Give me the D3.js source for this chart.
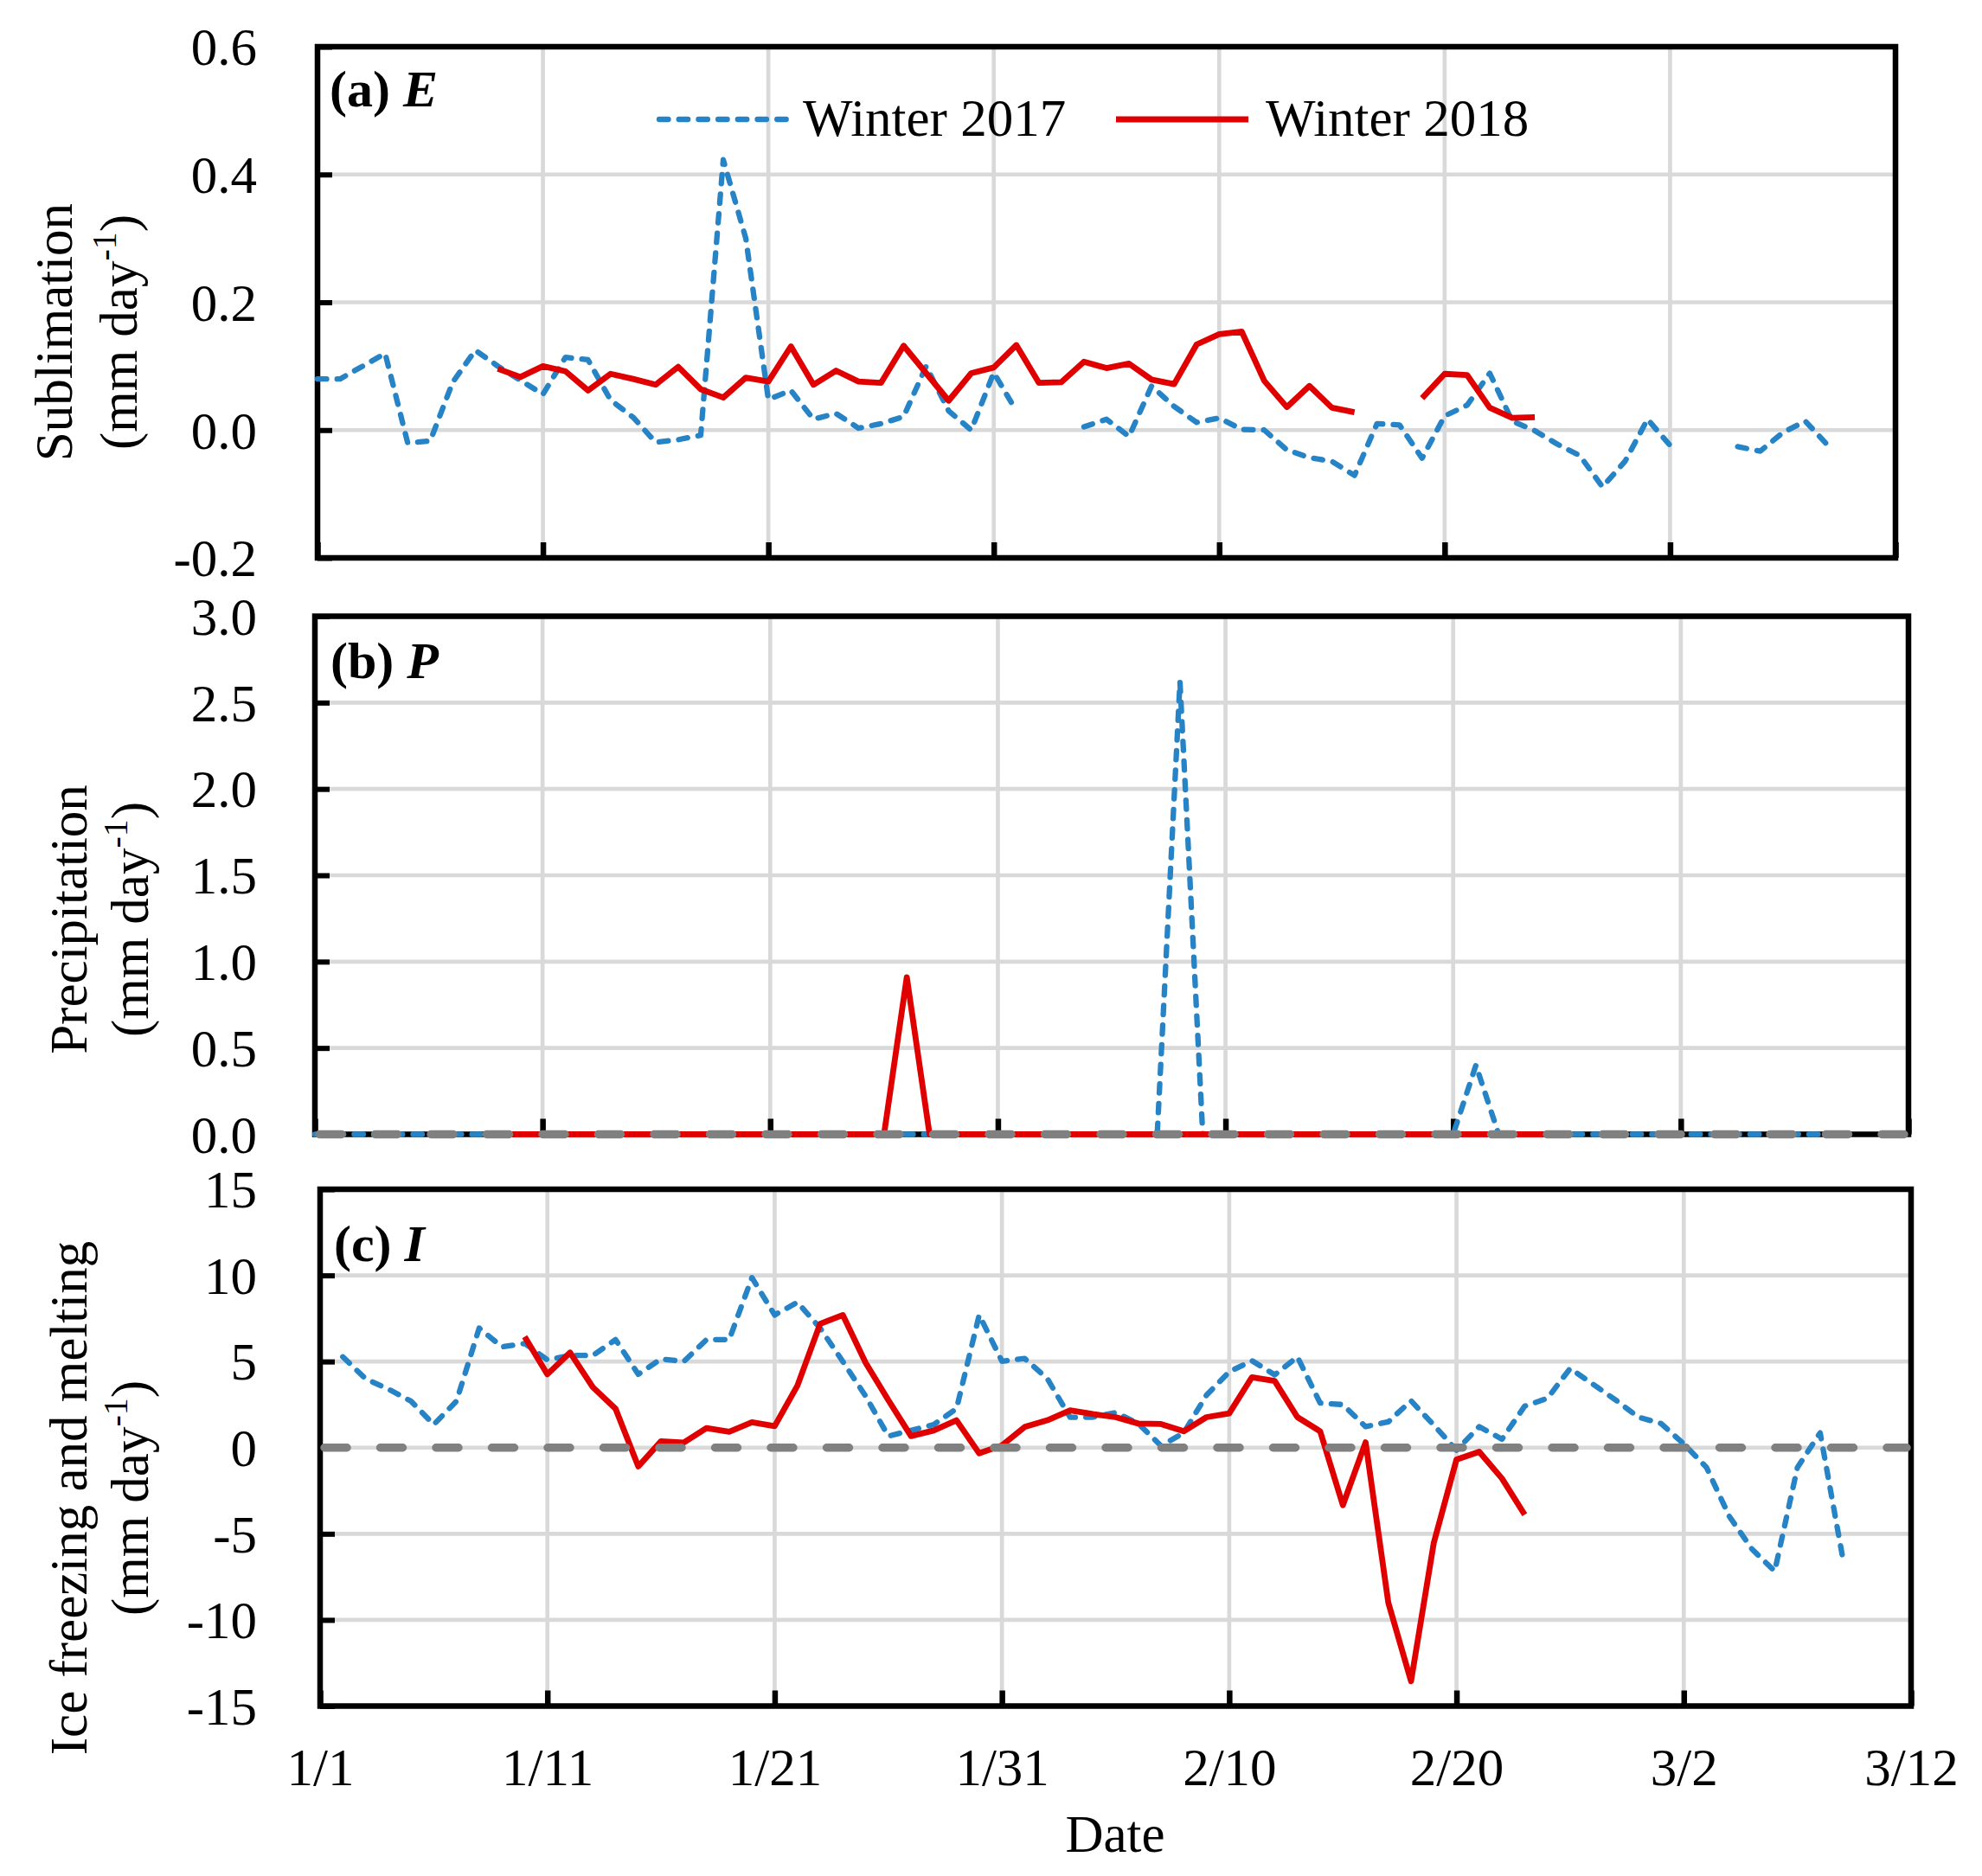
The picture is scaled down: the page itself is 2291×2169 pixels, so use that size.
<!DOCTYPE html>
<html>
<head>
<meta charset="utf-8">
<script src="https://cdn.jsdelivr.net/npm/d3@7/dist/d3.min.js"></script>
<style>
  html, body { margin: 0; padding: 0; background: #fff; }
  svg { display: block; }
  text { font-family: "Liberation Serif", "Times New Roman", serif; fill: #000; }
</style>
</head>
<body>
<svg id="chart" width="2291" height="2169" viewBox="0 0 2291 2169"></svg>
<script>
// ---------------- DATA ----------------
const xTickDays   = [0, 10, 20, 30, 40, 50, 60, 70];
const xTickLabels = ["1/1", "1/11", "1/21", "1/31", "2/10", "2/20", "3/2", "3/12"];

const yTicksE = [-0.2, 0, 0.2, 0.4, 0.6];
const yTicksP = [0, 0.5, 1.0, 1.5, 2.0, 2.5, 3.0];
const yTicksI = [-15, -10, -5, 0, 5, 10, 15];

const seriesNames = ["Winter 2017", "Winter 2018"];

// Sublimation E (mm/day), index = days since 1/1
const E2017 = [0.080,0.080,0.100,0.120,-0.020,-0.017,0.075,0.125,0.100,0.078,0.056,0.114,0.110,0.047,0.020,-0.019,-0.015,-0.008,0.423,0.300,0.048,0.062,0.017,0.026,0.003,0.010,0.021,0.100,0.030,0.000,0.090,0.030,null,null,0.005,0.017,-0.010,0.069,0.037,0.012,0.019,0.001,0.000,-0.031,-0.043,-0.049,-0.071,0.010,0.008,-0.044,0.022,0.039,0.089,0.014,-0.001,-0.022,-0.040,-0.089,-0.049,0.017,-0.024,null,null,-0.026,-0.033,-0.004,0.014,-0.024];
const E2018 = [null,null,null,null,null,null,null,null,0.096,0.083,0.100,0.092,0.062,0.088,0.080,0.071,0.099,0.064,0.051,0.082,0.076,0.131,0.071,0.093,0.076,0.074,0.132,0.089,0.046,0.089,0.098,0.133,0.074,0.075,0.107,0.097,0.104,0.079,0.072,0.134,0.150,0.154,0.077,0.036,0.069,0.035,0.028,null,null,0.050,0.088,0.086,0.035,0.019,0.020];

// Precipitation P (mm/day)
const P2017 = [0,0,0,0,0,0,0,0,0,0,0,0,0,0,0,0,0,0,0,0,0,0,0,0,0,0,0,0,0,0,0,0,0,0,0,0,0,0,2.62,0,0,0,0,0,0,0,0,0,0,0,0,0.40,0,0,0,0,0,0,0,0,0,0,0,0,0,0,0,0];
const P2018 = [null,null,null,null,null,null,null,null,0,0,0,0,0,0,0,0,0,0,0,0,0,0,0,0,0,0,0.91,0,0,0,0,0,0,0,0,0,0,0,0,0,0,0,0,0,0,0,0,0,0,0,0,0,0,0,0];

// Ice freezing and melting I (mm/day)
const I2017 = [null,5.27,4.0,3.4,2.7,1.34,2.7,6.94,5.85,6.05,5.1,5.35,5.35,6.27,4.26,5.15,5.0,6.27,6.27,9.87,7.7,8.44,6.94,5.0,3.0,0.67,1.0,1.34,2.26,7.7,5.02,5.18,4.0,1.76,1.77,2.04,1.4,0.1,0.86,3.05,4.4,5.05,4.23,5.27,2.59,2.5,1.22,1.5,2.72,1.31,-0.15,1.22,0.49,2.41,2.86,4.6,3.69,2.77,1.77,1.4,0.22,-1.15,-3.98,-5.89,-7.17,-1.15,0.86,-6.44];
const I2018 = [null,null,null,null,null,null,null,null,null,6.44,4.26,5.52,3.51,2.26,-1.09,0.37,0.3,1.14,0.92,1.47,1.25,3.6,7.19,7.7,4.93,2.76,0.67,1.0,1.59,-0.33,0.13,1.2,1.59,2.17,1.95,1.77,1.4,1.37,0.95,1.77,1.99,4.09,3.87,1.77,0.95,-3.34,0.31,-9.0,-13.56,-5.53,-0.69,-0.24,-1.79,-3.89];

// ---------------- STYLE / LAYOUT ----------------
const C_BLUE = "#2683c6", C_RED = "#e00000", C_ZERO = "#808080", C_GRID = "#d9d9d9";
const FONT = 61;
const BLUE_W = 6.3, BLUE_DASH = "10.5,12.2", RED_W = 6.8;
const hyphen = f => (d => f(d).replace("\u2212", "-"));
const svg = d3.select("#chart");

const panels = [
  { key: "a", x0: 367, x1: 2191, y0: 54,    y1: 645,    dom: [-0.2, 0.6], ticks: yTicksE, fmt: hyphen(d3.format(".1f")),
    s17: E2017, s18: E2018, zero: false, letter: "(a) ", sym: "E", lab: [381, 123],
    title: ["Sublimation"], tx: [83, 158], ty: 384 },
  { key: "b", x0: 364, x1: 2206, y0: 712.5, y1: 1311.5, dom: [0, 3],      ticks: yTicksP, fmt: hyphen(d3.format(".1f")),
    s17: P2017, s18: P2018, zero: true,  letter: "(b) ", sym: "P", lab: [382, 784],
    title: ["Precipitation"], tx: [100, 171], ty: 1063 },
  { key: "c", x0: 370, x1: 2209, y0: 1375,  y1: 1972.5, dom: [-15, 15],   ticks: yTicksI, fmt: d => String(d),
    s17: I2017, s18: I2018, zero: true,  letter: "(c) ", sym: "I", lab: [386, 1458],
    title: ["Ice freezing and melting"], tx: [100, 171], ty: 1732 }
];

panels.forEach((p, pi) => {
  const x = d3.scaleLinear().domain([0, 70]).range([p.x0, p.x1]);
  const y = d3.scaleLinear().domain(p.dom).range([p.y1, p.y0]);
  const g = svg.append("g");

  // gridlines
  g.append("g").selectAll("line").data(p.ticks.slice(1, -1)).join("line")
    .attr("x1", p.x0).attr("x2", p.x1).attr("y1", d => y(d)).attr("y2", d => y(d))
    .attr("stroke", C_GRID).attr("stroke-width", 4.7);
  g.append("g").selectAll("line").data(xTickDays.slice(1, -1)).join("line")
    .attr("x1", d => x(d)).attr("x2", d => x(d)).attr("y1", p.y0).attr("y2", p.y1)
    .attr("stroke", C_GRID).attr("stroke-width", 4.7);

  // frame
  g.append("rect").attr("x", p.x0).attr("y", p.y0)
    .attr("width", p.x1 - p.x0).attr("height", p.y1 - p.y0)
    .attr("fill", "none").attr("stroke", "#000").attr("stroke-width", 6.5);

  // y axis (ticks inside)
  const yAxis = d3.axisLeft(y).tickValues(p.ticks).tickFormat(p.fmt)
    .tickSize(-17).tickPadding(p.x0 - 297);
  const ya = g.append("g").attr("transform", `translate(${p.x0},0)`).call(yAxis);
  ya.select(".domain").remove();
  ya.selectAll(".tick line").attr("stroke", "#000").attr("stroke-width", 6);
  ya.selectAll(".tick text").attr("font-size", FONT).attr("font-family", "Liberation Serif").attr("dy", "0.34em");

  // x axis (ticks inside)
  const xAxis = d3.axisBottom(x).tickValues(xTickDays)
    .tickFormat((d, i) => pi === 2 ? xTickLabels[i] : "").tickSize(-18);
  const xa = g.append("g").attr("transform", `translate(0,${p.y1})`).call(xAxis);
  xa.select(".domain").remove();
  xa.selectAll(".tick line").attr("stroke", "#000").attr("stroke-width", 6.5);
  xa.selectAll(".tick text").attr("font-size", FONT).attr("font-family", "Liberation Serif")
    .attr("y", 2064 - p.y1).attr("dy", null);

  // data lines
  const line = d3.line().defined(d => d != null).x((d, i) => x(i)).y(d => y(d));
  g.append("path").datum(p.s17).attr("d", line)
    .attr("fill", "none").attr("stroke", C_BLUE).attr("stroke-width", BLUE_W)
    .attr("stroke-dasharray", BLUE_DASH).attr("stroke-linecap", "round").attr("stroke-linejoin", "round");
  g.append("path").datum(p.s18).attr("d", line)
    .attr("fill", "none").attr("stroke", C_RED).attr("stroke-width", RED_W)
    .attr("stroke-linejoin", "round");

  // zero reference dashed line
  if (p.zero) {
    g.append("line").attr("x1", p.x0 + 5).attr("x2", p.x1 - 5).attr("y1", y(0)).attr("y2", y(0))
      .attr("stroke", C_ZERO).attr("stroke-width", 9.5)
      .attr("stroke-dasharray", "26,38.5").attr("stroke-linecap", "round");
  }

  // panel label
  const lt = g.append("text").attr("x", p.lab[0]).attr("y", p.lab[1]).attr("font-size", 60).attr("font-weight", "bold");
  lt.append("tspan").text(p.letter);
  lt.append("tspan").attr("font-style", "italic").text(p.sym);

  // y title
  g.append("text").attr("transform", `translate(${p.tx[0]},${p.ty}) rotate(-90)`)
    .attr("text-anchor", "middle").attr("font-size", FONT).text(p.title[0]);
  const t2 = g.append("text").attr("transform", `translate(${p.tx[1]},${p.ty}) rotate(-90)`)
    .attr("text-anchor", "middle").attr("font-size", FONT);
  t2.append("tspan").text("(mm day");
  t2.append("tspan").attr("font-size", 40).attr("dy", -24).text("-1");
  t2.append("tspan").attr("dy", 24).text(")");
});

// legend (panel a)
const leg = svg.append("g");
leg.append("line").attr("x1", 762).attr("x2", 909).attr("y1", 138).attr("y2", 138)
  .attr("stroke", C_BLUE).attr("stroke-width", BLUE_W).attr("stroke-dasharray", BLUE_DASH).attr("stroke-linecap", "round");
leg.append("text").attr("x", 928).attr("y", 157).attr("font-size", FONT).text(seriesNames[0]);
leg.append("line").attr("x1", 1290).attr("x2", 1443).attr("y1", 138).attr("y2", 138)
  .attr("stroke", C_RED).attr("stroke-width", 7);
leg.append("text").attr("x", 1463).attr("y", 157).attr("font-size", FONT).text(seriesNames[1]);

// x title
svg.append("text").attr("x", 1289).attr("y", 2141).attr("text-anchor", "middle")
  .attr("font-size", FONT).text("Date");
</script>
</body>
</html>
